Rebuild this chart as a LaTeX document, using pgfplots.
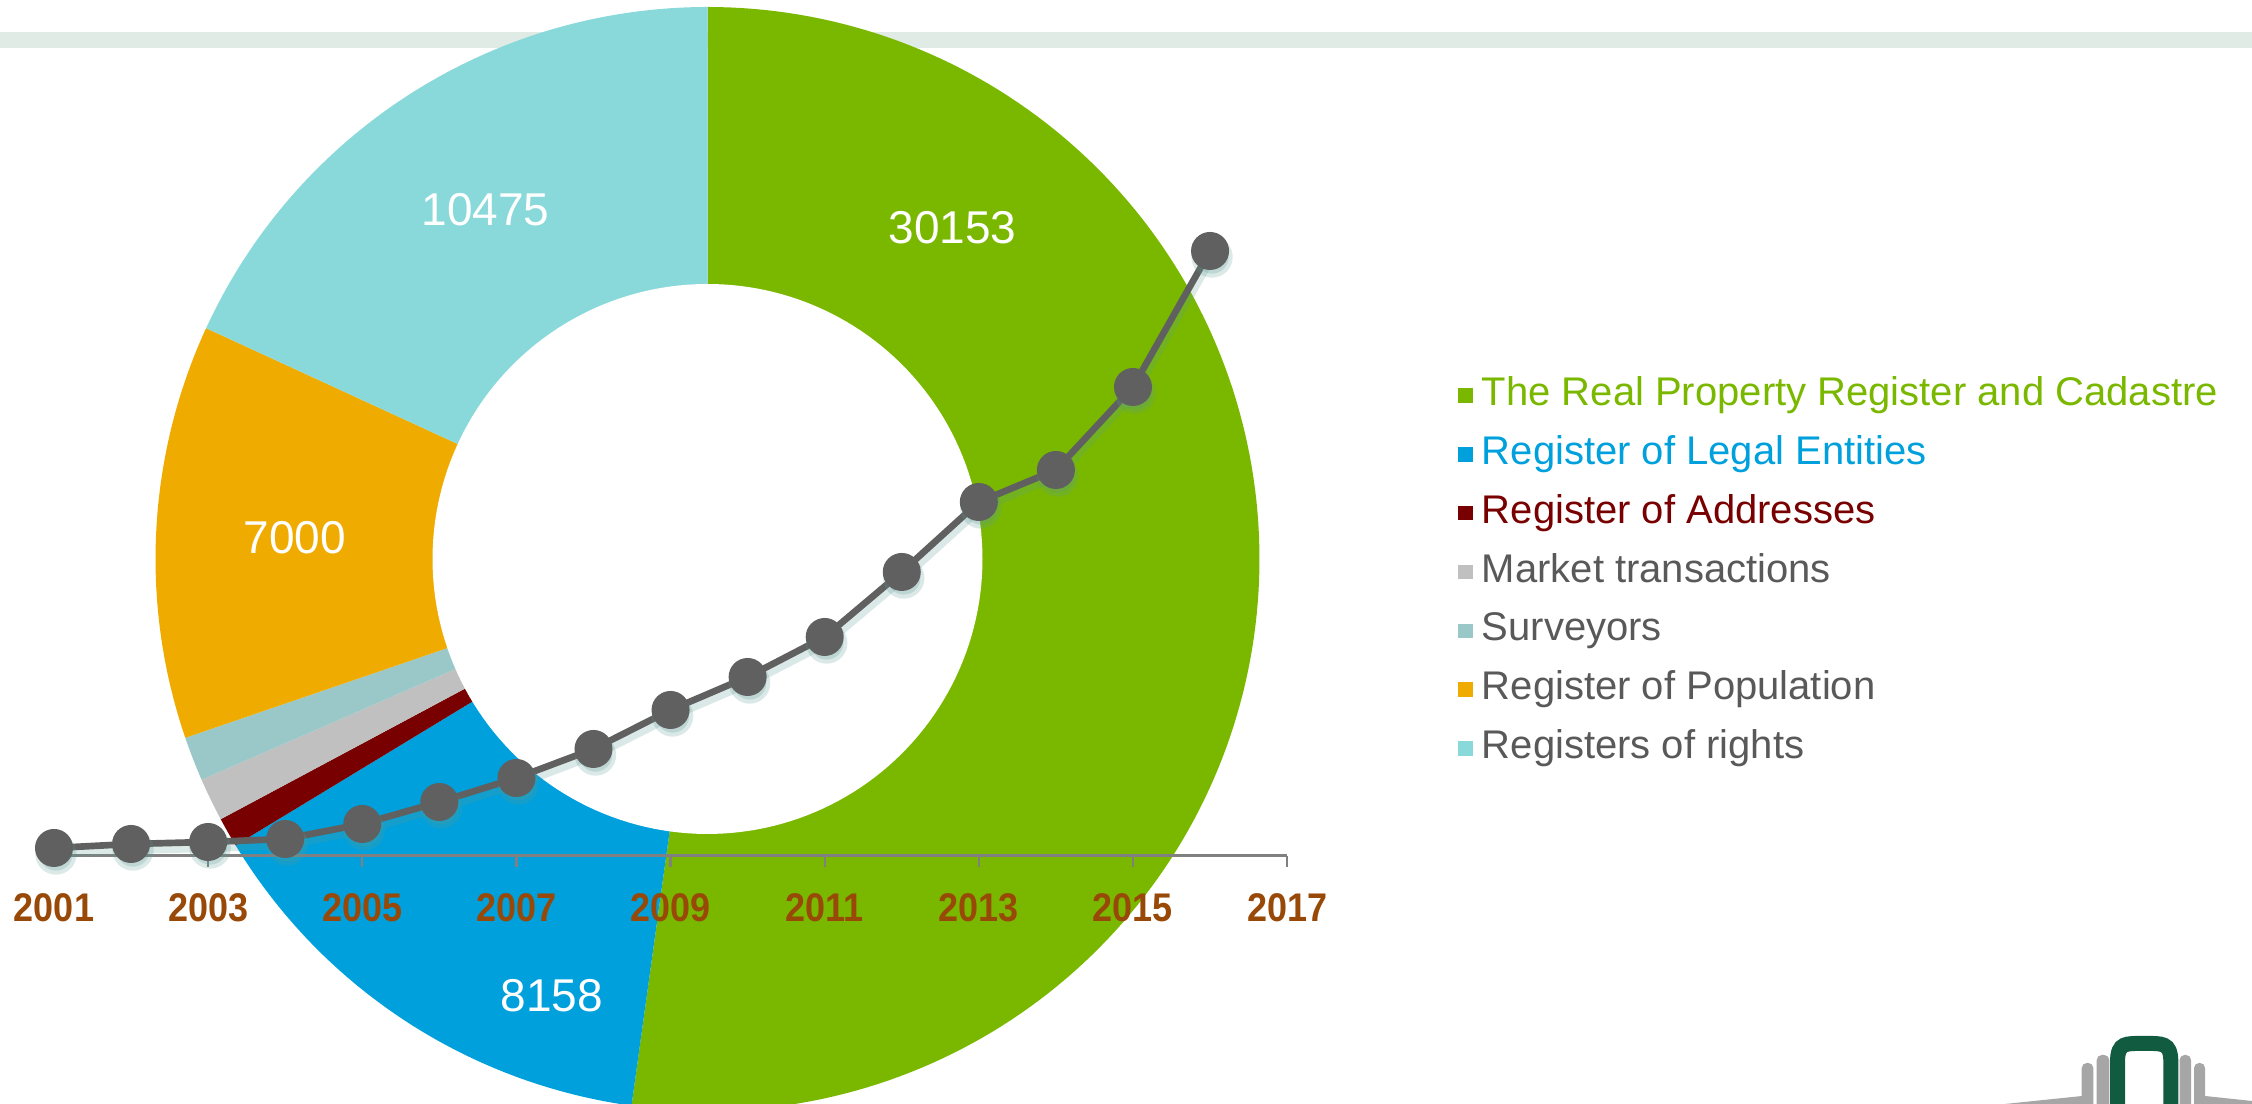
\documentclass[border=0pt]{standalone}
\usepackage{pgfplots}
\pgfplotsset{compat=1.18}
\usepackage{fontspec}
\setmainfont{Liberation Sans}
\newfontfamily\tickfont[FakeStretch=0.9]{Liberation Sans}

\definecolor{cgreen}{HTML}{7AB800}
\definecolor{cblue}{HTML}{00A0DC}
\definecolor{cred}{HTML}{780000}
\definecolor{cgray}{HTML}{C0C0C0}
\definecolor{csurv}{HTML}{9AC8C8}
\definecolor{corange}{HTML}{F0AB00}
\definecolor{ccyan}{HTML}{8AD9DA}
\definecolor{ctext}{HTML}{595959}
\definecolor{cline}{HTML}{606060}
\definecolor{cshadow}{HTML}{5A9A92}
\definecolor{ctick}{HTML}{984807}
\definecolor{caxis}{HTML}{808080}
\definecolor{cband}{HTML}{E1EBE6}
\definecolor{clogo}{HTML}{115C40}
\definecolor{clogogray}{HTML}{A6A6A6}

% donut values
\def\vA{30153}% The Real Property Register and Cadastre
\def\vB{8158}%  Register of Legal Entities
\def\vC{500}%   Register of Addresses
\def\vD{730}%   Market transactions
\def\vE{750}%   Surveyors
\def\vF{7000}%  Register of Population
\def\vG{10475}% Registers of rights
\edef\tot{\fpeval{\vA+\vB+\vC+\vD+\vE+\vF+\vG}}
\edef\tA{\fpeval{90-360*\vA/\tot}}
\edef\tB{\fpeval{\tA-360*\vB/\tot}}
\edef\tC{\fpeval{\tB-360*\vC/\tot}}
\edef\tD{\fpeval{\tC-360*\vD/\tot}}
\edef\tE{\fpeval{\tD-360*\vE/\tot}}
\edef\tF{\fpeval{\tE-360*\vF/\tot}}
\edef\tG{\fpeval{\tF-360*\vG/\tot}}

\pgfplotstableread{
year value
2001 8
2002 12
2003 14
2004 17
2005 32
2006 54
2007 78
2008 107
2009 146
2010 179
2011 219
2012 284
2013 354
2014 386
2015 469
2016 605
}\growth

\begin{document}
\begin{tikzpicture}
\path[use as bounding box] (0pt,0pt) rectangle (675.6pt,331.2pt);

% ---------------- donut ----------------
\begin{axis}[
  at={(0pt,0pt)}, anchor=south west,
  x=0.3pt, y=0.3pt,
  xmin=-707.5, xmax=1544.5, ymin=-545, ymax=559,
  hide axis, clip=true,
  legend cell align=left,
  legend image code/.code={\fill[#1] (0pt,-2.2pt) rectangle (4.4pt,2.2pt);
    \path (7.2pt,0pt);},
  legend style={at={(0.6474,0.660)}, anchor=north west, draw=none, fill=none,
    inner sep=0pt, outer sep=0pt, row sep=5.67pt, text=ctext,
    font=\fontsize{12}{14}\selectfont,
    nodes={inner sep=0pt, text height=9pt, text depth=3pt}},
]
\fill[cband] (axis cs:-707.5,511.3) rectangle (axis cs:1544.5,527.3);

\addplot[draw=none, fill=cgreen, domain=\tA:90, samples=160, variable=\t]
  ({552*cos(\t)},{552*sin(\t)}) -- (axis cs:0,0) -- cycle;
\addlegendentry{\textcolor{cgreen}{The Real Property Register and Cadastre}}
\addplot[draw=none, fill=cblue, domain=\tB:\tA, samples=60, variable=\t]
  ({552*cos(\t)},{552*sin(\t)}) -- (axis cs:0,0) -- cycle;
\addlegendentry{\textcolor{cblue}{Register of Legal Entities}}
\addplot[draw=none, fill=cred, domain=\tC:\tB, samples=10, variable=\t]
  ({552*cos(\t)},{552*sin(\t)}) -- (axis cs:0,0) -- cycle;
\addlegendentry{\textcolor{cred}{Register of Addresses}}
\addplot[draw=none, fill=cgray, domain=\tD:\tC, samples=10, variable=\t]
  ({552*cos(\t)},{552*sin(\t)}) -- (axis cs:0,0) -- cycle;
\addlegendentry{Market transactions}
\addplot[draw=none, fill=csurv, domain=\tE:\tD, samples=10, variable=\t]
  ({552*cos(\t)},{552*sin(\t)}) -- (axis cs:0,0) -- cycle;
\addlegendentry{Surveyors}
\addplot[draw=none, fill=corange, domain=\tF:\tE, samples=50, variable=\t]
  ({552*cos(\t)},{552*sin(\t)}) -- (axis cs:0,0) -- cycle;
\addlegendentry{Register of Population}
\addplot[draw=none, fill=ccyan, domain=\tG:\tF, samples=70, variable=\t]
  ({552*cos(\t)},{552*sin(\t)}) -- (axis cs:0,0) -- cycle;
\addlegendentry{Registers of rights}

\addplot[forget plot, draw=none, fill=white, domain=0:360, samples=200, variable=\t]
  ({275*cos(\t)},{275*sin(\t)});

\node[text=white, font=\fontsize{13.8}{16}\selectfont] at (axis cs:245,331) {\vA};
\node[text=white, font=\fontsize{13.8}{16}\selectfont] at (axis cs:-222,349) {\vG};
\node[text=white, font=\fontsize{13.8}{16}\selectfont] at (axis cs:-412.5,21) {\vF};
\node[text=white, font=\fontsize{13.8}{16}\selectfont] at (axis cs:-155.5,-437) {\vB};
\end{axis}

% ---------------- growth line ----------------
\begin{axis}[
  at={(16.2pt,74.4pt)}, anchor=south west,
  x=23.121pt, y=0.3pt,
  xmin=2001, xmax=2017, ymin=0, ymax=620,
  enlargelimits=false, clip=false,
  axis x line*=bottom, axis y line=none,
  x axis line style={draw=caxis, line width=0.9pt, -},
  xtick={2001,2003,...,2017},
  xticklabels={2001,2003,2005,2007,2009,2011,2013,2015,2017},
  tick align=outside, major tick length=3.3pt,
  xtick style={draw=caxis, line width=0.7pt},
  xticklabel style={font=\tickfont\bfseries\fontsize{12}{14}\selectfont,
    text=ctick, inner sep=0pt, anchor=north, yshift=-7.85pt},
]
\addplot[cshadow, opacity=0.22, line width=2.4pt, mark=*, mark size=5pt,
  mark options={draw=none, fill=cshadow}, xshift=0.6pt, yshift=-1.8pt] table[x=year,y=value] {\growth};
\addplot[cline, line width=2pt, mark=*, mark size=4.7pt,
  mark options={draw=none, fill=cline}] table[x=year,y=value] {\growth};
\end{axis}

% ---------------- logo (decoration) ----------------
\begin{scope}[x=0.3pt, y=-0.3pt, shift={(0pt,331.2pt)}]
\fill[clogogray] (2000,1104.5) -- (2082,1096) -- (2082,1104.5) -- cycle;
\fill[clogogray] (2205,1096) -- (2252,1101) -- (2252,1104.5) -- (2205,1104.5) -- cycle;
\fill[clogogray, rounded corners=1.5pt] (2081.7,1110) rectangle (2093.3,1063);
\fill[clogogray, rounded corners=1.5pt] (2096.7,1110) rectangle (2109.3,1055);
\fill[clogogray, rounded corners=1.5pt] (2179.5,1110) rectangle (2191,1055);
\fill[clogogray, rounded corners=1.5pt] (2194,1110) rectangle (2205,1063);
\draw[clogo, line width=4.5pt] (2117.5,1110) -- (2117.5,1062)
  .. controls (2117.5,1042) and (2126,1043.5) .. (2144,1043.5)
  .. controls (2162,1043.5) and (2170.8,1042) .. (2170.8,1062) -- (2170.8,1110);
\end{scope}
\end{tikzpicture}
\end{document}
